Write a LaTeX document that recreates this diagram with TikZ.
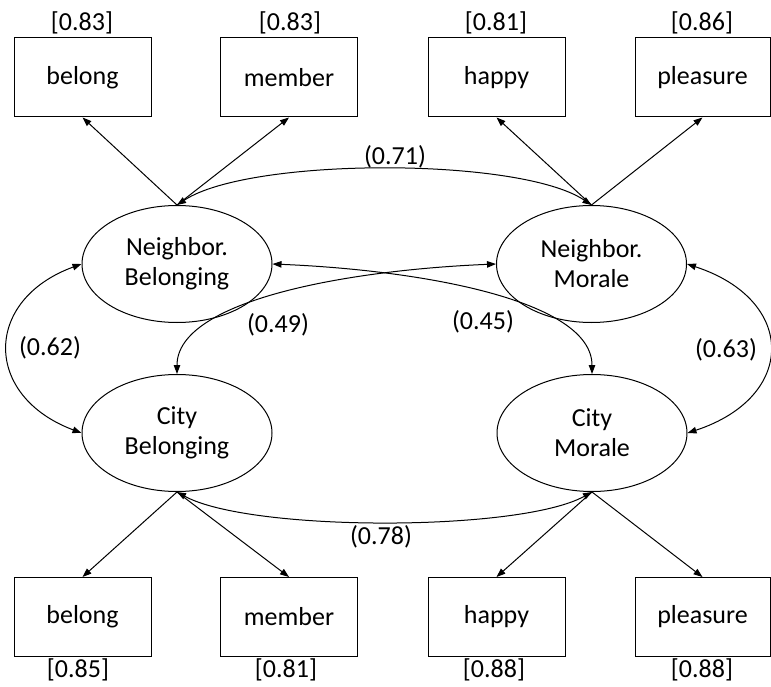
\documentclass[tikz,border=0pt]{standalone}
\usepackage{fontspec}
\setmainfont{Carlito}
\usetikzlibrary{arrows.meta,shapes.geometric}
\begin{document}
\begin{tikzpicture}[x=1pt,y=-1pt,
  font=\fontsize{26}{30}\selectfont,
  obs/.style={draw, line width=1pt, minimum width=137pt, minimum height=79pt, inner sep=0pt},
  lat/.style={draw, ellipse, line width=1pt, minimum width=190pt, minimum height=117pt, inner sep=0pt, align=center},
  lbl/.style={inner sep=0pt},
  tip/.tip={Triangle[length=9pt,width=6.5pt]},
  load/.style={line width=1pt, -tip},
  cov/.style={line width=1pt, tip-tip}]
\useasboundingbox (0,0) rectangle (771,687);
% observed, top
\node[obs] (b1) at (82.5,77.5) {belong};
\node[obs] (m1) at (289,77.5) {member};
\node[obs] (h1) at (496.5,77.5) {happy};
\node[obs, minimum width=135pt] (p1) at (702.5,77.5) {pleasure};
% observed, bottom
\node[obs] (b2) at (82.5,617) {belong};
\node[obs] (m2) at (289,617) {member};
\node[obs] (h2) at (496.5,617) {happy};
\node[obs, minimum width=135pt] (p2) at (702.5,617) {pleasure};
% error labels
\node[lbl] (eb1) at (82,23) {[0.83]};
\node[lbl] (em1) at (290,23) {[0.83]};
\node[lbl] (eh1) at (496,23) {[0.81]};
\node[lbl] (ep1) at (702,23) {[0.86]};
\node[lbl] (eb2) at (78,670) {[0.85]};
\node[lbl] (em2) at (286,670) {[0.81]};
\node[lbl] (eh2) at (494,670) {[0.88]};
\node[lbl] (ep2) at (702,670) {[0.88]};
% latent
\node[lat] (NB) at (177,264) {Neighbor.\\Belonging};
\node[lat] (NM) at (591.5,264) {Neighbor.\\Morale};
\node[lat] (CB) at (177,433) {City\\Belonging};
\node[lat] (CM) at (592,433) {City\\Morale};
% loadings
\draw[load] (NB.north) -- (b1.south);
\draw[load] (NB.north) -- (m1.south);
\draw[load] (NM.north) -- (h1.south);
\draw[load] (NM.north) -- (p1.south);
\draw[load] (CB.south) -- (b2.north);
\draw[load] (CB.south) -- (m2.north);
\draw[load] (CM.south) -- (h2.north);
\draw[load] (CM.south) -- (p2.north);
% covariances
\draw[cov] (NB.north) .. controls (250,157) and (520,157) .. (NM.north);
\draw[cov] (CB.south) .. controls (250,532) and (520,532) .. (CM.south);
\draw[cov] (NB.west) .. controls (-17,300) and (-17,396) .. (CB.west);
\draw[cov] (NM.east) .. controls (797,300) and (797,397) .. (CM.east);
\draw[cov] (NM.west) .. controls (349,270) and (177,300) .. (CB.north);
\draw[cov] (NB.east) .. controls (420,270) and (592,300) .. (CM.north);
% covariance labels
\node[lbl] (c71) at (395,157) {(0.71)};
\node[lbl] (c78) at (381,537) {(0.78)};
\node[lbl] (c62) at (50,348) {(0.62)};
\node[lbl] (c63) at (726,350) {(0.63)};
\node[lbl] (c49) at (278,325) {(0.49)};
\node[lbl] (c45) at (483,322) {(0.45)};
\end{tikzpicture}
\end{document}
